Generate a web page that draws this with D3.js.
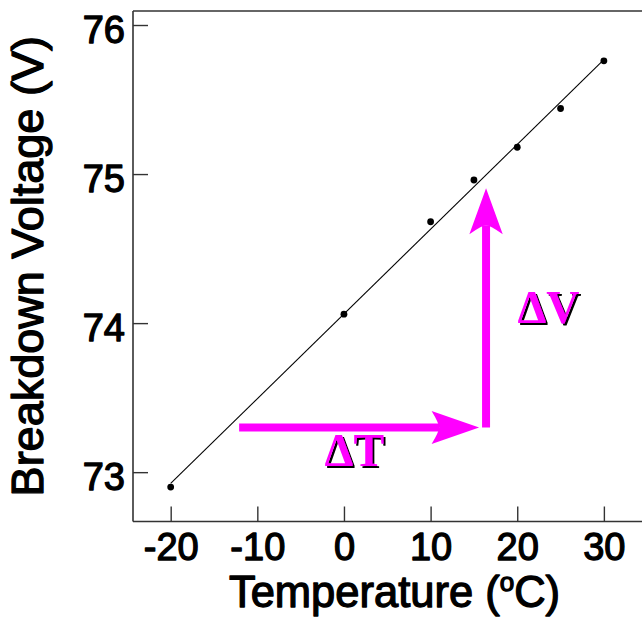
<!DOCTYPE html>
<html>
<head>
<meta charset="utf-8">
<script src="https://cdn.jsdelivr.net/npm/d3@7"></script>
<style>
  body { margin: 0; background: #fff; }
  svg { display: block; }
</style>
</head>
<body>
<svg id="chart" width="642" height="618"></svg>
<script>
// Measured breakdown voltage versus temperature
const temperature = [-20, 0, 10, 15, 20, 25, 30];
const breakdownVoltage = [72.90, 74.06, 74.68, 74.96, 75.18, 75.44, 75.76];

const xTicks = [-20, -10, 0, 10, 20, 30];
const yTicks = [73, 74, 75, 76];

// Annotation arrows and labels, in data units
const deltaTArrow = [[-12.1, 73.30], [15.6, 73.30]];
const deltaVArrow = [[16.4, 73.30], [16.4, 74.905]];
const deltaLabels = [
  { text: "\u0394T", x: 1.2, y: 73.04 },
  { text: "\u0394V", x: 23.6, y: 74.00 }
];

const xLabel = "Temperature (";
const xLabelSup = "o";
const xLabelEnd = "C)";
const yLabel = "Breakdown Voltage (V)";

const svg = d3.select("#chart");
const plotLeft = 133, plotTop = 11, plotBottom = 521.5, plotRight = 642;

const x = d3.scaleLinear().domain([-24.35, 34.4]).range([plotLeft, plotRight]);
const y = d3.scaleLinear().domain([72.669, 76.094]).range([plotBottom, plotTop]);

const sans = "'Liberation Sans', Arial, Helvetica, sans-serif";
const serif = "'Liberation Serif', 'Times New Roman', serif";
const axisColor = "#333";

// Shadow filter for the delta labels
const defs = svg.append("defs");
const filt = defs.append("filter").attr("id", "dropShadow")
  .attr("x", "-10%").attr("y", "-10%").attr("width", "130%").attr("height", "130%");
filt.append("feOffset").attr("in", "SourceAlpha").attr("dx", 2).attr("dy", 2).attr("result", "off");
const merge = filt.append("feMerge");
merge.append("feMergeNode").attr("in", "off");
merge.append("feMergeNode").attr("in", "SourceGraphic");

// Heavy sans text: regular face with an outline
function heavy(sel, size, sw) {
  return sel.attr("fill", "#000")
    .attr("stroke", "#000")
    .attr("stroke-width", sw)
    .attr("stroke-linejoin", "round")
    .style("font-family", sans)
    .style("font-weight", "normal")
    .style("font-size", size + "px");
}

// Frame: top border line
svg.append("line")
  .attr("x1", plotLeft).attr("x2", plotRight)
  .attr("y1", plotTop).attr("y2", plotTop)
  .attr("stroke", axisColor).attr("stroke-width", 1.6);

const fmt = d => String(d);

// Bottom axis
const xAxis = svg.append("g")
  .attr("transform", `translate(0,${plotBottom})`)
  .call(d3.axisBottom(x).tickValues(xTicks).tickFormat(fmt)
    .tickSizeInner(-15).tickSizeOuter(0).tickPadding(12));
// Left axis
const yAxis = svg.append("g")
  .attr("transform", `translate(${plotLeft},0)`)
  .call(d3.axisLeft(y).tickValues(yTicks).tickFormat(fmt)
    .tickSizeInner(-15).tickSizeOuter(0).tickPadding(8));

[xAxis, yAxis].forEach(g => {
  g.select(".domain").attr("stroke", axisColor).attr("stroke-width", 1.6);
  g.selectAll(".tick line").attr("stroke", axisColor).attr("stroke-width", 1.4);
  heavy(g.selectAll(".tick text"), 38, 1.3);
});
yAxis.selectAll(".tick text").attr("dy", "0.46em");
xAxis.select(".domain").attr("d", `M${plotLeft},0H${plotRight}`);
yAxis.select(".domain").attr("d", `M0,${plotTop}V${plotBottom}`);

// Least-squares fit line
const n = temperature.length;
const mx = d3.mean(temperature), my = d3.mean(breakdownVoltage);
let sxy = 0, sxx = 0;
for (let i = 0; i < n; i++) {
  sxy += (temperature[i] - mx) * (breakdownVoltage[i] - my);
  sxx += (temperature[i] - mx) ** 2;
}
const slope = sxy / sxx, intercept = my - slope * mx;
const xMin = d3.min(temperature), xMax = d3.max(temperature);
svg.append("line")
  .attr("x1", x(xMin)).attr("y1", y(intercept + slope * xMin))
  .attr("x2", x(xMax)).attr("y2", y(intercept + slope * xMax))
  .attr("stroke", "#000").attr("stroke-width", 1.1);

// Data points
svg.append("g").selectAll("circle")
  .data(temperature.map((t, i) => [t, breakdownVoltage[i]]))
  .join("circle")
  .attr("cx", d => x(d[0]))
  .attr("cy", d => y(d[1]))
  .attr("r", 3.4)
  .attr("fill", "#000");

// Arrows
const magenta = "#ff00ff";
function arrow(from, to, headLen, headHalf, notch, width) {
  const x0 = x(from[0]), y0 = y(from[1]);
  const x1 = x(to[0]), y1 = y(to[1]);
  const dx = x1 - x0, dy = y1 - y0;
  const L = Math.hypot(dx, dy);
  const ux = dx / L, uy = dy / L;
  const px = -uy, py = ux;
  const g = svg.append("g");
  const sx = x1 - ux * notch, sy = y1 - uy * notch;
  g.append("line")
    .attr("x1", x0).attr("y1", y0)
    .attr("x2", sx).attr("y2", sy)
    .attr("stroke", magenta).attr("stroke-width", width);
  const bx = x1 - ux * headLen, by = y1 - uy * headLen;
  const b1 = [bx + px * headHalf, by + py * headHalf];
  const b2 = [bx - px * headHalf, by - py * headHalf];
  const hw = width / 2;
  const c1 = [sx + px * hw, sy + py * hw];
  const c2 = [sx - px * hw, sy - py * hw];
  g.append("path")
    .attr("d", `M${x1},${y1}L${b1[0]},${b1[1]}Q${c1[0]},${c1[1]} ${sx},${sy}Q${c2[0]},${c2[1]} ${b2[0]},${b2[1]}Z`)
    .attr("fill", magenta);
}
arrow(deltaTArrow[0], deltaTArrow[1], 47.5, 16.5, 40, 8);
arrow(deltaVArrow[0], deltaVArrow[1], 46, 16.7, 37, 8);

// Delta labels: magenta with a black drop shadow
svg.append("g")
  .style("font-family", serif)
  .style("font-weight", "bold")
  .style("font-size", "46px")
  .attr("text-anchor", "middle")
  .selectAll("text")
  .data(deltaLabels)
  .join("text")
  .attr("x", d => x(d.x))
  .attr("y", d => y(d.y))
  .attr("fill", magenta)
  .attr("filter", "url(#dropShadow)")
  .text(d => d.text);

// Axis titles
const xt = heavy(svg.append("text"), 43.5, 1.3)
  .attr("x", (plotLeft + plotRight) / 2 + 7)
  .attr("y", 607)
  .attr("text-anchor", "middle");
xt.append("tspan").text(xLabel);
xt.append("tspan").attr("dy", -16).style("font-size", "26px").text(xLabelSup);
xt.append("tspan").attr("dy", 16).text(xLabelEnd);

heavy(svg.append("text"), 45, 1.3)
  .attr("transform", `translate(43,${(plotTop + plotBottom) / 2}) rotate(-90)`)
  .attr("text-anchor", "middle")
  .text(yLabel);
</script>
</body>
</html>
